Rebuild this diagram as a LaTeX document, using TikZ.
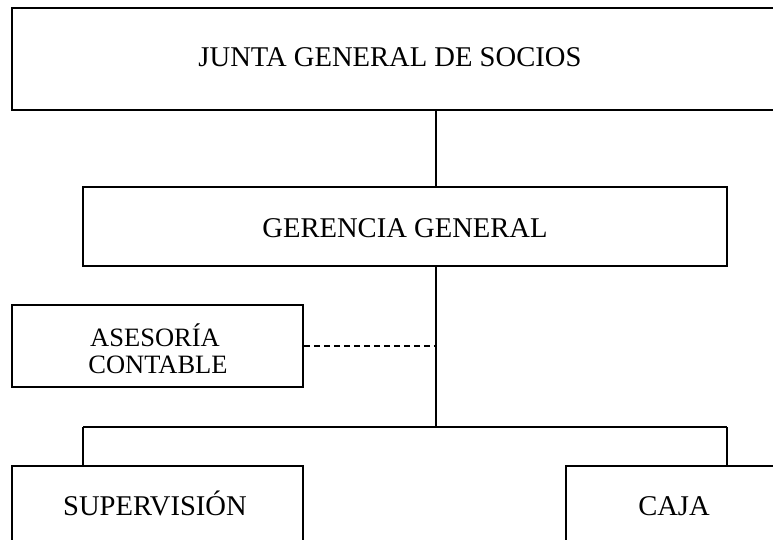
\documentclass[tikz,border=0pt]{standalone}
\usepackage{fontspec}
\setmainfont{Liberation Serif}
\tikzset{
  orgbox/.style={draw=black, line width=1.5pt, fill=none, inner sep=0pt},
  orgline/.style={draw=black, line width=1.5pt},
  advline/.style={draw=black, line width=1.5pt, dash pattern=on 6.5pt off 3.5pt},
  bigtext/.style={anchor=base, inner sep=0pt, font=\fontsize{28.6}{34}\selectfont},
  smalltext/.style={anchor=base, inner sep=0pt, font=\fontsize{26.5}{31}\selectfont},
}
\begin{document}
\begin{tikzpicture}[x=1pt, y=-1pt]
\useasboundingbox (0,0) rectangle (773,540);
\fill[white] (0,0) rectangle (773,540);
\clip (0,0) rectangle (773,540);

% boxes
\node[orgbox, minimum width=803pt, minimum height=102pt] (junta) at (413.5,59) {};
\node[orgbox, minimum width=644pt, minimum height=79pt] (gerencia) at (405,226.5) {};
\node[orgbox, minimum width=291pt, minimum height=82pt] (asesoria) at (157.5,346) {};
\node[orgbox, minimum width=291pt, minimum height=94pt] (supervision) at (157.5,513) {};
\node[orgbox, minimum width=224pt, minimum height=94pt] (caja) at (678,513) {};

% texts
\node[bigtext] (juntatext) at (390,67) {JUNTA GENERAL DE SOCIOS};
\node[bigtext] (gerenciatext) at (405,237) {GERENCIA GENERAL};
\node[smalltext] (asesoriatexta) at (155,346) {ASESORÍA};
\node[smalltext] (asesoriatextb) at (158,373) {CONTABLE};
\node[bigtext] (supervisiontext) at (155,515) {SUPERVISIÓN};
\node[bigtext] (cajatext) at (674,515) {CAJA};

% connector helpers
\coordinate (spine) at (436,0);
\coordinate (supdrop) at (83,427);
\coordinate (cajadrop) at (727,427);

% connectors
\draw[orgline] (junta.south -| spine) -- (gerencia.north -| spine);
\draw[orgline] (gerencia.south -| spine) -- (spine |- supdrop);
\draw[advline] (asesoria.east) -- (asesoria.east -| spine);
\draw[orgline] (supdrop) -- (cajadrop);
\draw[orgline] (supdrop) -- (supdrop |- supervision.north);
\draw[orgline] (cajadrop) -- (cajadrop |- caja.north);
\end{tikzpicture}
\end{document}
